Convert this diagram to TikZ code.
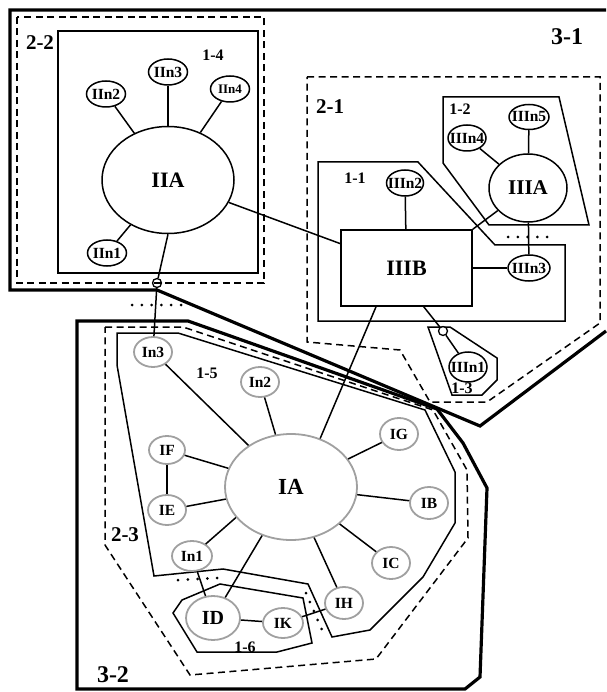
\documentclass[tikz,border=0pt]{standalone}
\usepackage{fontspec}
\setmainfont{Liberation Serif}
\usetikzlibrary{shapes.geometric,calc}
\definecolor{ngray}{RGB}{160,160,160}
\newcommand{\nlab}[1]{\makebox[0pt]{#1}}
\begin{document}
\begin{tikzpicture}[x=1pt,y=-1pt,
 grp/.style={line width=1.5pt, line join=miter},
 dgrp/.style={line width=1.5pt, dash pattern=on 7pt off 4.5pt},
 tgrp/.style={line width=3.2pt, line join=miter},
 bn/.style={ellipse, draw, line width=1.5pt, inner sep=0pt, font=\bfseries\fontsize{22}{22}\selectfont},
 sn/.style={ellipse, draw, line width=1.5pt, inner sep=0pt, minimum width=39pt, minimum height=26pt, font=\bfseries\fontsize{15.5}{15.5}\selectfont},
 gbn/.style={bn, draw=ngray, line width=1.8pt},
 gsn/.style={sn, draw=ngray, line width=1.8pt, minimum width=38pt, minimum height=30pt},
 conn/.style={line width=1.5pt},
 glab/.style={font=\bfseries\fontsize{16}{16}\selectfont, inner sep=0pt},
 Glab/.style={font=\bfseries\fontsize{21}{21}\selectfont, inner sep=0pt},
 dotrow/.style={line width=3pt, dash pattern=on 0pt off 9.8pt, line cap=round},
 smallc/.style={circle, draw, fill=white, line width=1.3pt, minimum size=9pt, inner sep=0pt},
]
\useasboundingbox (0,0) rectangle (606,692);

% ---- group outlines
\draw[tgrp] (606,10) -- (10,10) -- (10,290) -- (157,290) -- (480,426) -- (606,331);
\draw[tgrp] (77,689) -- (77,321) -- (188,321) -- (437,409) -- (463,443) -- (487,488) -- (480,677) -- (465,689) -- cycle;
\draw[dgrp] (17,17) rectangle (264,283);
\draw[grp] (58,31) rectangle (258,273);
\draw[dgrp] (307,77) -- (600,77) -- (600,323) -- (487,402) -- (430,402) -- (400,350) -- (307,342) -- cycle;
\draw[grp] (318,162) -- (418,162) -- (495,245) -- (565,245) -- (565,321) -- (318,321) -- cycle;
\draw[grp] (443,97) -- (559,97) -- (589,225) -- (489,225) -- (443,163) -- cycle;
\draw[grp] (428,327) -- (450,327) -- (497,358) -- (497,380) -- (482,395) -- (452,395) -- cycle;
\draw[dgrp] (105,327) -- (183,327) -- (433,410) -- (467,470) -- (468,538) -- (376,659) -- (190,675) -- (105,545) -- cycle;
\draw[grp] (117,333) -- (178,333) -- (425,410) -- (455,472) -- (455,523) -- (423,577) -- (370,630) -- (332,637) -- (308,584) -- (223,569) -- (154,576) -- (117,365) -- cycle;
\draw[grp] (182,600) -- (220,584) -- (303,598) -- (312,643) -- (277,652) -- (197,652) -- (173,613) -- cycle;

% dotted rows
\draw[dotrow] (132,305) -- (182,305);
\draw[dotrow] (508,237) -- (548,237);
\draw[dotrow] (178,580) -- (218,578);
\draw[dotrow] (306,593) -- (322,630);

% group labels
\node[Glab, font=\bfseries\fontsize{24}{24}\selectfont] (l31) at (567,37) {3-1};
\node[Glab] (l22) at (40,43) {2-2};
\node[glab] (l14) at (213,55) {1-4};
\node[Glab] (l21) at (330,107) {2-1};
\node[glab] (l12) at (460,109) {1-2};
\node[glab] (l11) at (355,178) {1-1};
\node[glab] (l13) at (462,388) {1-3};
\node[glab] (l15) at (207,373) {1-5};
\node[Glab] (l23) at (125,535) {2-3};
\node[glab] (l16) at (245,647) {1-6};
\node[Glab, font=\bfseries\fontsize{24}{24}\selectfont] (l32) at (113,675) {3-2};

% ---- nodes: group II
\node[bn, minimum width=132pt, minimum height=107pt] (IIA) at (168,180) {\nlab{IIA}};
\node[sn] (IIn1) at (107,253) {\nlab{IIn1}};
\node[sn] (IIn2) at (106,94) {\nlab{IIn2}};
\node[sn] (IIn3) at (168,72) {\nlab{IIn3}};
\node[sn, font=\bfseries\fontsize{13}{13}\selectfont] (IIn4) at (230,89) {\nlab{IIn4}};

% ---- nodes: group III
\node[draw, rectangle, line width=1.5pt, minimum width=131pt, minimum height=76pt, inner sep=0pt, font=\bfseries\fontsize{22}{22}\selectfont] (IIIB) at (406.5,268) {\nlab{IIIB}};
\node[bn, minimum width=78pt, minimum height=68pt, font=\bfseries\fontsize{21}{21}\selectfont] (IIIA) at (528,188) {\nlab{IIIA}};
\node[sn, minimum width=37pt] (IIIn2) at (405,183) {\nlab{IIIn2}};
\node[sn, minimum width=42pt] (IIIn3) at (529,268) {\nlab{IIIn3}};
\node[sn, minimum width=38pt] (IIIn4) at (467,138) {\nlab{IIIn4}};
\node[sn, minimum width=40pt, minimum height=25pt] (IIIn5) at (529,117) {\nlab{IIIn5}};
\node[sn, minimum width=38pt, minimum height=30pt] (IIIn1) at (468,367) {\nlab{IIIn1}};

% ---- nodes: group I
\node[gbn, minimum width=132pt, minimum height=106pt, font=\bfseries\fontsize{23}{23}\selectfont] (IA) at (291,487) {\nlab{IA}};
\node[gsn] (In2) at (260,382) {\nlab{In2}};
\node[gsn] (In3) at (153,352) {\nlab{In3}};
\node[gsn, minimum width=36pt, minimum height=28pt] (IF) at (167,450) {\nlab{IF}};
\node[gsn] (IE) at (167,510) {\nlab{IE}};
\node[gsn, minimum width=40pt] (In1) at (192,556) {\nlab{In1}};
\node[gsn, minimum width=54pt, minimum height=44pt, font=\bfseries\fontsize{20}{20}\selectfont] (ID) at (213,618) {\nlab{ID}};
\node[gsn, minimum width=40pt] (IK) at (283,623) {\nlab{IK}};
\node[gsn, minimum height=32pt] (IH) at (344,603) {\nlab{IH}};
\node[gsn, minimum height=32pt] (IC) at (391,563) {\nlab{IC}};
\node[gsn, minimum height=32pt] (IB) at (429,503) {\nlab{IB}};
\node[gsn, minimum height=32pt] (IG) at (399,434) {\nlab{IG}};

% small circles
\node[smallc, fill=none] (c2) at (157,283) {};
\node[smallc] (c1) at (443,331) {};

% ---- connectors
\draw[conn] (IIA) -- (IIn1);
\draw[conn] (IIA) -- (IIn2);
\draw[conn] (IIA) -- (IIn3);
\draw[conn] (IIA) -- (IIn4);
\draw[conn] (IIA) -- (IIIB);
\draw[conn] (IIA.south) -- (c2);
\draw[conn] (c2) -- (In3);

\draw[conn] (IIIB) -- (IIIn2);
\draw[conn] (IIIB) -- (IIIn3);
\draw[conn] (IIIB.north east) -- (IIIA);
\draw[conn] (IIIA) -- (IIIn3);
\draw[conn] (IIIA) -- (IIIn4);
\draw[conn] (IIIA) -- (IIIn5);
\draw[conn] ($(IIIB.south west)!0.63!(IIIB.south east)$) -- (c1);
\draw[conn] (c1) -- (IIIn1);
\draw[conn] ($(IIIB.south west)!0.27!(IIIB.south east)$) -- (IA.59);

\draw[conn] (IA) -- (In3);
\draw[conn] (IA) -- (In2);
\draw[conn] (IA) -- (IF);
\draw[conn] (IA) -- (IE);
\draw[conn] (IF) -- (IE);
\draw[conn] (In1) -- (IA.209);
\draw[conn] (IA) -- (ID);
\draw[conn] (IA) -- (IH);
\draw[conn] (IA) -- (IC);
\draw[conn] (IA) -- (IB);
\draw[conn] (IA) -- (IG);
\draw[conn] (ID) -- (IK);
\draw[conn] (IK) -- (IH);
\draw[conn] (In1) -- (ID);
\end{tikzpicture}
\end{document}
